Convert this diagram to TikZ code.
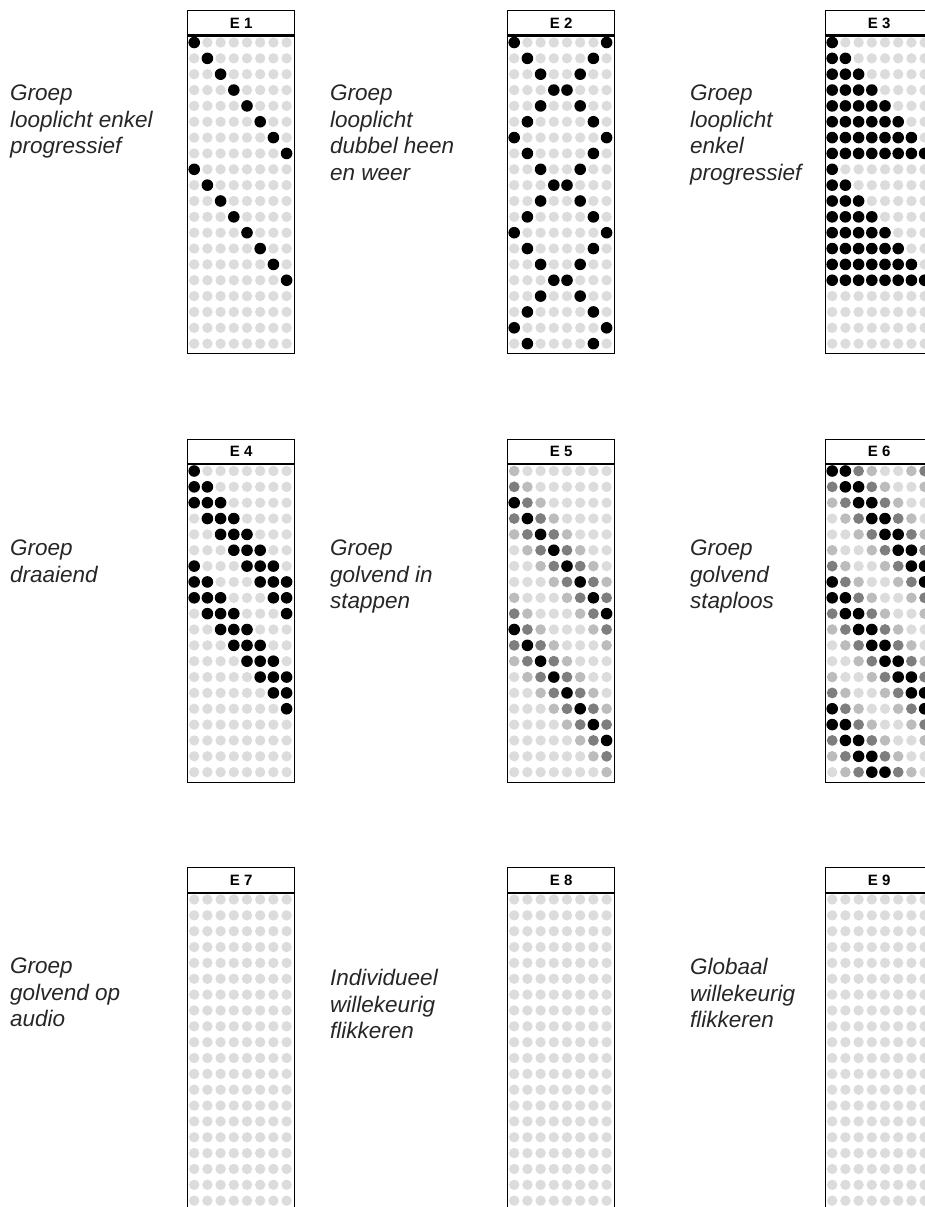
\documentclass[tikz,border=0pt]{standalone}
\usepackage{fontspec}
\setmainfont{Liberation Sans}
\definecolor{dotlight}{HTML}{DCDCDC}
\definecolor{dotmid}{HTML}{BCBCBC}
\definecolor{dotdark}{HTML}{7E7E7E}
\tikzset{
  desc/.style={anchor=north west, inner sep=0pt, align=left,
    font=\fontsize{22.5}{26.5}\selectfont\itshape, text=black!85},
  panelframe/.style={draw=black, line width=1.4pt, anchor=north west, inner sep=0pt,
    minimum width=107, minimum height=343},
  titlecell/.style={draw=black, line width=1.4pt, anchor=north west, inner sep=0pt,
    minimum width=107, minimum height=24.5, font=\fontsize{15}{17}\selectfont\bfseries},
  lvl0/.style={fill=dotlight, radius=5.2},
  lvl1/.style={fill=dotmid, radius=5.3},
  lvl2/.style={fill=dotdark, radius=5.4},
  lvl3/.style={fill=black, radius=5.8},
}
% #1 name, #2 left x, #3 top y, #4 title, #5 level expression in \rowi, \coli
\newcommand{\ledpanel}[5]{%
  \begin{scope}[shift={(#2,#3)}]
    \node[panelframe] (#1) at (0,0) {};
    \node[titlecell] (#1t) at (0,0) {#4};
    \draw[line width=2pt] (#1t.south west) -- (#1t.south east);
    \foreach \rowi in {1,...,20}{
      \foreach \coli in {0,...,7}{
        \pgfmathtruncatemacro\lvl{round(#5)}
        \fill[lvl\lvl] (7.2+13.2*\coli, 32.5+15.85*\rowi-15.85) circle;
      }
    }
  \end{scope}%
}
\begin{document}
\begin{tikzpicture}[x=1pt, y=-1pt]
\useasboundingbox (0,0) rectangle (925,1207);
\clip (0,0) rectangle (925,1207);

% row 1
\ledpanel{e1}{187}{10}{E 1}{(\rowi<=16)*(\coli==mod(\rowi-1,8))*3}
\ledpanel{e2}{507}{10}{E 2}{((\coli==min(mod(\rowi-1,6),6-mod(\rowi-1,6))) || (\coli==7-min(mod(\rowi-1,6),6-mod(\rowi-1,6))))*3}
\ledpanel{e3}{825}{10}{E 3}{(\rowi<=16)*(\coli<=mod(\rowi-1,8))*3}
% row 2
\ledpanel{e4}{187}{438.5}{E 4}{(((\coli<=\rowi-1) && (\coli>=\rowi-3)) || ((\coli<=\rowi-7) && (\coli>=\rowi-9)))*3}
\ledpanel{e5}{507}{438.5}{E 5}{max(0, 3-abs(\coli-\rowi+3), 3-abs(\coli-\rowi+11))}
\ledpanel{e6}{825}{438.5}{E 6}{3.5-min(abs(mod(\coli-\rowi+25,8)-0.5), 8-abs(mod(\coli-\rowi+25,8)-0.5))}
% row 3
\ledpanel{e7}{187}{867}{E 7}{0}
\ledpanel{e8}{507}{867}{E 8}{0}
\ledpanel{e9}{825}{867}{E 9}{0}

% descriptions
\node[desc] (d1) at (10,85) {Groep\\looplicht enkel\\progressief};
\node[desc] (d2) at (330,85) {Groep\\looplicht\\dubbel heen\\en weer};
\node[desc] (d3) at (690,85) {Groep\\looplicht\\enkel\\progressief};
\node[desc] (d4) at (10,540) {Groep\\draaiend};
\node[desc] (d5) at (330,540) {Groep\\golvend in\\stappen};
\node[desc] (d6) at (690,540) {Groep\\golvend\\staploos};
\node[desc] (d7) at (10,958) {Groep\\golvend op\\audio};
\node[desc] (d8) at (330,969) {Individueel\\willekeurig\\flikkeren};
\node[desc] (d9) at (690,958) {Globaal\\willekeurig\\flikkeren};
\end{tikzpicture}
\end{document}
